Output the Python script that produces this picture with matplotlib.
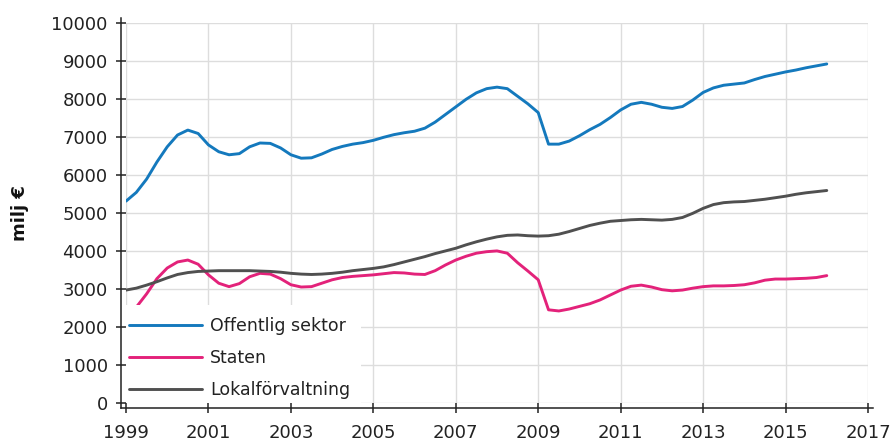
#!/usr/bin/env python3
"""
Quarterly line chart: Offentlig sektor, Staten, Lokalförvaltning (milj €).
"""

import matplotlib

matplotlib.use("Agg")
import matplotlib.pyplot as plt
from matplotlib.patches import Rectangle
import numpy as np

# quarters 1999Q1 .. 2016Q1
start_year = 1999
n_quarters = 69

offentlig_sektor = [
    5320, 5550, 5900, 6350,
    6750, 7060, 7190, 7100,
    6800, 6620, 6540, 6570,
    6750, 6850, 6840, 6720,
    6540, 6450, 6460, 6560,
    6680, 6760, 6820, 6860,
    6920, 7000, 7070, 7120,
    7160, 7240, 7400, 7600,
    7800, 8000, 8170, 8280,
    8320, 8280, 8080, 7880,
    7650, 6820, 6820, 6900,
    7040, 7200, 7340, 7520,
    7720, 7870, 7920, 7870,
    7790, 7760, 7810, 7980,
    8180, 8300, 8370, 8400,
    8430, 8520, 8600, 8660,
    8720, 8770, 8830, 8880,
    8930,
]

staten = [
    2250, 2530, 2880, 3280,
    3560, 3720, 3770, 3660,
    3380, 3160, 3070, 3150,
    3330, 3420, 3400, 3280,
    3120, 3060, 3070, 3160,
    3250, 3310, 3340, 3360,
    3380, 3410, 3440, 3430,
    3400, 3390, 3490, 3640,
    3770, 3870, 3950, 3990,
    4010, 3950, 3700, 3480,
    3250, 2460, 2430, 2480,
    2550, 2620, 2720, 2850,
    2980, 3080, 3110, 3060,
    2990, 2960, 2980, 3030,
    3070, 3090, 3090, 3100,
    3120, 3170, 3240, 3270,
    3270, 3280, 3290, 3310,
    3360,
]

lokalforvaltning = [
    2980, 3030, 3110, 3200,
    3300, 3390, 3440, 3470,
    3480, 3490, 3490, 3490,
    3490, 3480, 3470, 3450,
    3420, 3400, 3390, 3400,
    3420, 3450, 3490, 3520,
    3550, 3590, 3650, 3720,
    3790, 3860, 3940, 4010,
    4080, 4170, 4250, 4320,
    4380, 4420, 4430, 4410,
    4400, 4410, 4450, 4520,
    4600, 4680, 4740, 4790,
    4810, 4830, 4840, 4830,
    4820, 4840, 4890, 5000,
    5130, 5230, 5280, 5300,
    5310, 5340, 5370, 5410,
    5450, 5500, 5540, 5570,
    5600,
]

series_labels = ["Offentlig sektor", "Staten", "Lokalförvaltning"]
series_colors = ["#1479bd", "#e3227a", "#505050"]

x_ticks = list(range(1999, 2018, 2))
y_ticks = list(range(0, 10001, 1000))


def main() -> int:
    plt.rcParams["font.family"] = ["DejaVu Sans"]

    fig = plt.figure(figsize=(8.91, 4.46), dpi=100)
    ax = fig.add_axes([126 / 891, 1 - 403.3 / 446, 742 / 891, 380 / 446])

    t = start_year + 0.25 * np.arange(n_quarters)
    for values, label, color in zip(
        [offentlig_sektor, staten, lokalforvaltning], series_labels, series_colors
    ):
        ax.plot(t, values, color=color, lw=2.1, label=label, zorder=2.0,
                solid_capstyle="round", solid_joinstyle="round")

    ax.set_xlim(1999, 2017)
    ax.set_ylim(0, 10000)
    ax.set_xticks(x_ticks)
    ax.set_yticks(y_ticks)
    ax.grid(True, color="#dddddd", lw=1.0)
    ax.set_axisbelow(True)

    for side in ("top", "right"):
        ax.spines[side].set_visible(False)
    ax.spines["left"].set_position(("outward", 3.6))
    ax.spines["bottom"].set_position(("outward", 3.6))
    ax.spines["left"].set_bounds(-130, 10140)
    ax.spines["bottom"].set_bounds(1998.88, 2017.12)
    for side in ("left", "bottom"):
        ax.spines[side].set_linewidth(1.1)
        ax.spines[side].set_color("#222222")

    ax.tick_params(axis="both", direction="inout", length=7, width=1.1,
                   color="#222222", labelsize=13, labelcolor="#222222")
    ax.tick_params(axis="y", pad=6)
    ax.tick_params(axis="x", pad=8)

    ax.set_ylabel("milj €", fontsize=13, fontweight="bold", color="#111111")
    ax.yaxis.set_label_coords(-0.131, 0.5)

    # white block behind the legend, hides grid and line ends like the original
    ax.add_patch(Rectangle((0, 0), 0.317, 0.259, transform=ax.transAxes,
                           facecolor="white", edgecolor="none", zorder=2.3))

    leg = ax.legend(
        loc="lower left",
        bbox_to_anchor=(0.0, 0.003),
        fontsize=12.5,
        frameon=False,
        handlelength=4.2,
        handletextpad=0.45,
        labelspacing=0.8,
        borderpad=0.2,
        borderaxespad=0.0,
    )
    leg.set_zorder(2.4)
    for text in leg.get_texts():
        text.set_color("#222222")

    fig.savefig("out.png", dpi=100)
    plt.close(fig)
    return 0


if __name__ == "__main__":
    raise SystemExit(main())
